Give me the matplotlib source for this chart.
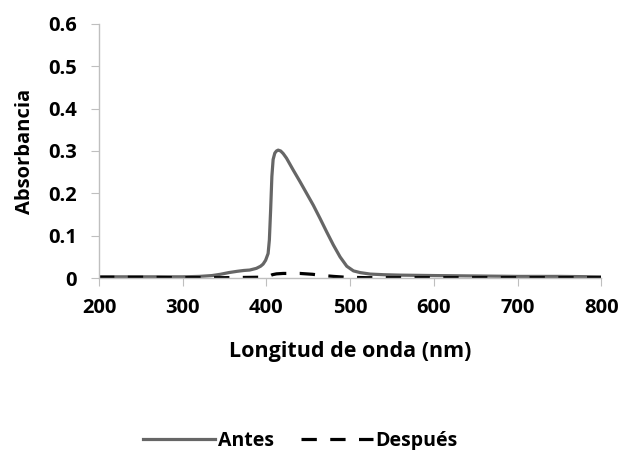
import matplotlib.pyplot as plt
import numpy as np

plt.rcParams['font.family'] = ['Open Sans', 'DejaVu Sans']
plt.rcParams['font.weight'] = 'bold'

# longitudes de onda (nm) y absorbancia
wl_antes = [200, 250, 300, 320, 335, 345, 355, 365, 373, 380, 388, 393, 396, 399,
            402, 403.5, 405, 406.5, 408, 410, 412, 414, 417, 420, 424, 432, 440,
            448, 456, 464, 472, 480, 488, 496, 504, 512, 524, 540, 560, 600, 650,
            700, 750, 800]
abs_antes = [0.003, 0.003, 0.003, 0.004, 0.006, 0.009, 0.013, 0.016, 0.018, 0.019,
             0.023, 0.028, 0.033, 0.042, 0.058, 0.090, 0.160, 0.240, 0.280, 0.295,
             0.300, 0.302, 0.300, 0.294, 0.283, 0.255, 0.228, 0.200, 0.172, 0.141,
             0.109, 0.078, 0.050, 0.028, 0.017, 0.013, 0.0095, 0.008, 0.007, 0.006,
             0.005, 0.004, 0.004, 0.003]

wl_despues = [200, 250, 300, 350, 390, 398, 403, 407, 412, 420, 440, 455, 468, 480,
              495, 520, 600, 700, 800]
abs_despues = [0.002, 0.002, 0.001, 0.001, 0.002, 0.002, 0.004, 0.008, 0.010, 0.011,
               0.011, 0.009, 0.006, 0.004, 0.002, 0.001, 0.001, 0.001, 0.001]

fig = plt.figure(figsize=(6.23, 4.5), dpi=100)
ax = fig.add_axes([0.159, 0.382, 0.806, 0.565])

ax.plot(wl_antes, abs_antes, color='#666666', lw=2.3, label='Antes')
ax.plot(wl_despues, abs_despues, color='black', lw=2.3, dashes=(4.8, 4.2),
        label='Después')

ax.set_xlim(200, 800)
ax.set_ylim(0, 0.6)
ax.set_xticks(np.arange(200, 801, 100))
ax.set_yticks(np.arange(0, 0.61, 0.1))
ax.set_yticklabels(['0', '0.1', '0.2', '0.3', '0.4', '0.5', '0.6'])

for s in ['top', 'right']:
    ax.spines[s].set_visible(False)
for s in ['left', 'bottom']:
    ax.spines[s].set_color('#bfbfbf')
    ax.spines[s].set_linewidth(1)
ax.tick_params(colors='#bfbfbf', length=6, labelcolor='black', labelsize=14.5)
ax.tick_params(axis='y', pad=10)
ax.tick_params(axis='x', pad=8)
for lab in ax.get_xticklabels() + ax.get_yticklabels():
    lab.set_fontweight('bold')

ax.set_xlabel('Longitud de onda (nm)', fontsize=15.5, fontweight='bold', labelpad=17)
ax.set_ylabel('Absorbancia', fontsize=14.5, fontweight='bold', labelpad=9)

fig.legend(loc='center', bbox_to_anchor=(0.482, 0.02), ncol=2, frameon=False,
           prop={'size': 14, 'weight': 'bold'}, handlelength=3.7,
           columnspacing=1.4, handletextpad=0.15)

fig.savefig('out.png', dpi=100)
